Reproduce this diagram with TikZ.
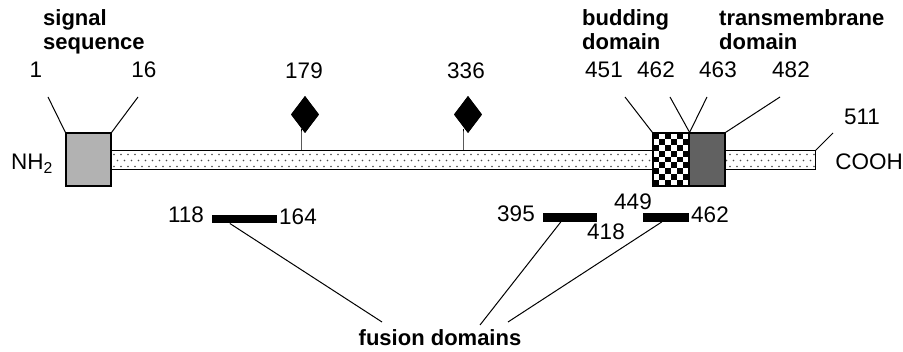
\documentclass[tikz,border=0pt]{standalone}
\usepackage{fontspec}
\setmainfont{Liberation Sans}
\usetikzlibrary{shapes.geometric,calc}
\begin{document}
\begin{tikzpicture}[x=1pt,y=-1pt,
  num/.style={font=\fontsize{22.5}{26}\selectfont, inner sep=0pt, anchor=base},
  ttl/.style={font=\fontsize{22}{24}\selectfont\bfseries, inner sep=0pt, anchor=base west, align=left},
  lead/.style={line width=1pt},
  dombox/.style={draw, line width=1.2pt, minimum width=#1, minimum height=53pt, inner sep=0pt},
  fbar/.style={fill=black, minimum width=#1, minimum height=8.5pt, inner sep=0pt},
  site/.style={diamond, fill=black, inner sep=0pt, minimum width=28pt, minimum height=37pt, aspect=0.76}]
\useasboundingbox (0,0) rectangle (903,352);

% main bar with dots
\node[minimum width=704pt, minimum height=18pt, inner sep=0pt] (bar) at (463,160) {};
\fill[white] (bar.north west) rectangle (bar.south east);
\begin{scope}
  \clip (bar.north west) rectangle (bar.south east);
  \foreach \r/\off in {154.5/0,160.5/3.5,166.5/0}{
    \foreach \k in {0,...,100}{
      \fill[black!70] ({114+\off+7*\k},\r) circle (0.85);
    }
  }
\end{scope}
\draw[line width=1.2pt] (bar.north west) rectangle (bar.south east);

% domain boxes
\node[dombox=45pt, fill=black!30] (sig) at (88.5,159.5) {};
\node[dombox=36pt, fill=white] (chk) at (671,159.5) {};
\begin{scope}
  \clip (chk.north west) rectangle (chk.south east);
  \foreach \i in {0,...,5}{
    \foreach \j in {0,...,8}{
      \ifodd\numexpr\i+\j\relax\else
        \fill ({653+6*\i},{133+53/9*\j}) rectangle ++(6,{53/9});
      \fi
    }
  }
\end{scope}
\draw[line width=1.2pt] (chk.north west) rectangle (chk.south east);
\node[dombox=36pt, fill=black!62] (tm) at (707,159.5) {};

% glycosylation sites
\coordinate (s1) at (301,151);
\coordinate (s2) at (463,151);
\node[site] (d1) at (305,114.5) {};
\node[site] (d2) at (468,114.5) {};
\draw[lead] (s1) -- (s1 |- d1.south) -- ++(0,-4);
\draw[lead] (s2) -- (s2 |- d2.south) -- ++(0,-4);
\node[site] at (d1) {};
\node[site] at (d2) {};
\node[num] (n179) at (304,79) {179};
\node[num] (n336) at (466,79) {336};

% titles
\node[ttl] (tsig) at (43,50) {signal\\sequence};
\node[ttl] (tbud) at (582,50) {budding\\domain};
\node[ttl] (ttm) at (719,50) {transmembrane\\domain};

% position labels and leads
\node[num] (n1) at (36,78) {1};
\node[num] (n16) at (144,78) {16};
\node[num] (n451) at (604,78) {451};
\node[num] (n462) at (656,78) {462};
\node[num] (n463) at (718,78) {463};
\node[num] (n482) at (791,78) {482};
\node[num] (n511) at (862,125) {511};
\coordinate (l1) at (48,97);
\coordinate (l16) at (138,97);
\coordinate (l451) at (625,97);
\coordinate (l462) at (670,97);
\coordinate (l463) at (707,97);
\coordinate (l482) at (780,97);
\coordinate (l511) at (833,133);
\draw[lead] (l1) -- (sig.north west);
\draw[lead] (l16) -- (sig.north east);
\draw[lead] (l451) -- (chk.north west);
\draw[lead] (l462) -- (chk.north east);
\draw[lead] (l463) -- (chk.north east);
\draw[lead] (l482) -- (tm.north east);
\draw[lead] (l511) -- (bar.north east);

% termini
\node[num, anchor=base west] (nh2) at (11,170) {NH\textsubscript{2}};
\node[num] (cooh) at (869,170) {COOH};

% fusion domains
\node[fbar=65pt] (f1) at (244.5,219) {};
\node[fbar=54pt] (f2) at (570,217.5) {};
\node[fbar=46pt] (f3) at (666,217.5) {};
\node[num] (n118) at (186,223) {118};
\node[num] (n164) at (298,225) {164};
\node[num] (n395) at (516,222) {395};
\node[num] (n418) at (606,240) {418};
\node[num] (n449) at (633,210) {449};
\node[num] (n462b) at (710,223) {462};
\node[num, font=\fontsize{22}{24}\selectfont\bfseries] (fd) at (440,346) {fusion domains};
\coordinate (e1) at (382,322);
\coordinate (e2) at (480,325);
\coordinate (e3) at (508,322);
\draw[lead] ($(f1.south west)+(18,0)$) -- (e1);
\draw[lead] ($(f2.south west)+(18,0)$) -- (e2);
\draw[lead] ($(f3.south west)+(19,0)$) -- (e3);
\end{tikzpicture}
\end{document}
